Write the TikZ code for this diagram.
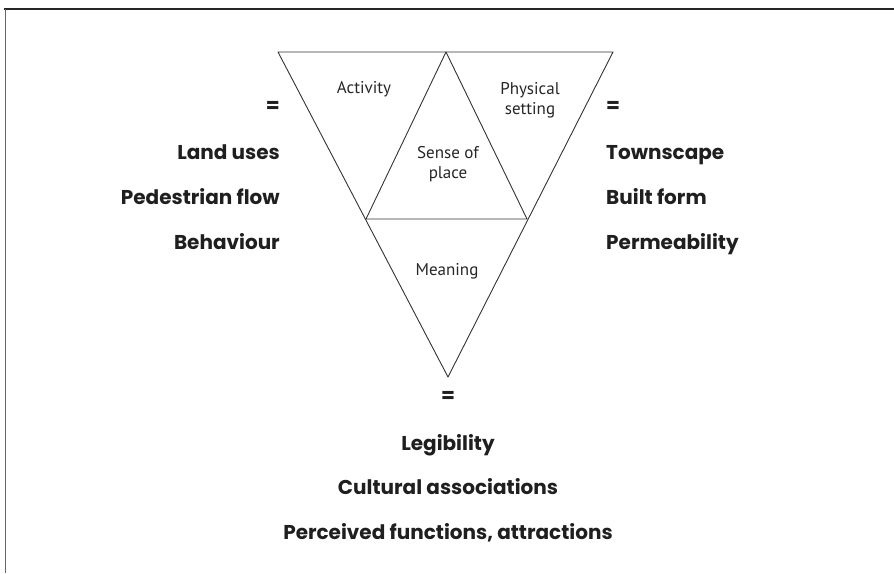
\documentclass[tikz,border=0pt]{standalone}
\usepackage{fontspec}
\newfontfamily\labelfont{PT Sans}
\newfontfamily\termfont{Poppins}
\begin{document}
\begin{tikzpicture}[x=1pt,y=-1pt,
  edge/.style={draw=black!80, line width=0.9pt, line join=round},
  inner/.style={font=\labelfont\fontsize{17}{20}\selectfont, text=black!85, inner sep=0pt, anchor=base},
  term/.style={font=\termfont\bfseries\fontsize{20}{24}\selectfont, text=black!88, inner sep=0pt, anchor=base}]
\useasboundingbox (0,0) rectangle (894,573);
% frame
\draw[black!85, line width=1.4pt] (4,9) -- (894,9);
\draw[black!60, line width=0.9pt] (5,9) -- (5,573);
% triangle corners
\coordinate (tl) at (278,52);
\coordinate (tm) at (446,52);
\coordinate (tr) at (613,52);
\coordinate (ml) at (366,219);
\coordinate (mr) at (527,219);
\coordinate (bt) at (448,377);
\draw[edge] (tl) -- (tr) -- (bt) -- cycle;
\draw[edge] (ml) -- (tm) -- (mr) -- cycle;
% inner labels
\node[inner] (act) at (364,93) {Activity};
\node[inner] (phy1) at (530,94) {Physical};
\node[inner] (phy2) at (530,114) {setting};
\node[inner] (sen1) at (448,158) {Sense of};
\node[inner] (sen2) at (448,178) {place};
\node[inner] (mea) at (447,275) {Meaning};
% left column
\node[term, anchor=east] (leq) at (280,107) {=};
\node[term, anchor=base east] (l1) at (280,159) {Land uses};
\node[term, anchor=base east] (l2) at (280,204) {Pedestrian flow};
\node[term, anchor=base east] (l3) at (280,249) {Behaviour};
% right column
\node[term, anchor=west] (req) at (606,107) {=};
\node[term, anchor=base west] (r1) at (606,159) {Townscape};
\node[term, anchor=base west] (r2) at (606,204) {Built form};
\node[term, anchor=base west] (r3) at (606,249) {Permeability};
% bottom column
\node[term, anchor=center] (beq) at (448,397) {=};
\node[term] (b1) at (448,450) {Legibility};
\node[term] (b2) at (448,494.5) {Cultural associations};
\node[term] (b3) at (448,539) {Perceived functions, attractions};
\end{tikzpicture}
\end{document}
